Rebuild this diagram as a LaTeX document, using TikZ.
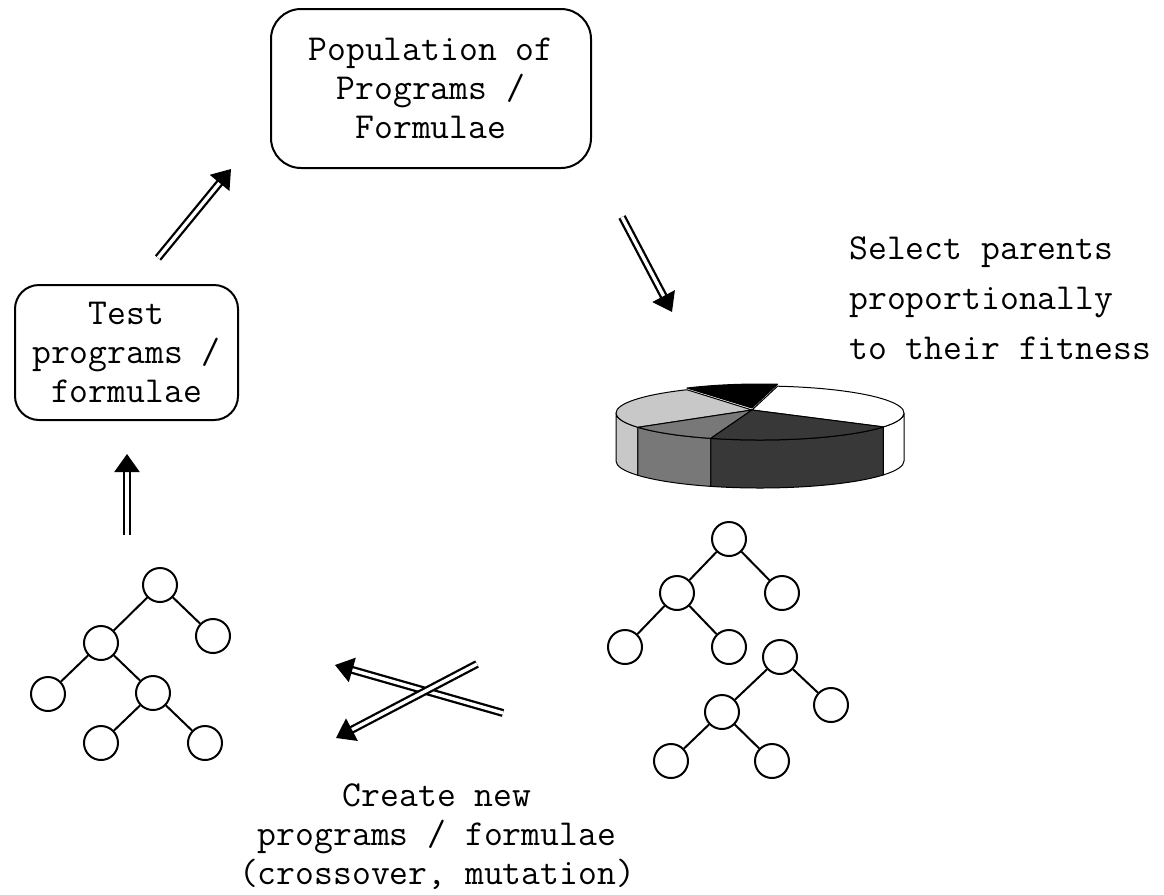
\documentclass[tikz,border=0pt]{standalone}
\usepackage{fontspec}
\usepackage{tikz}
\usepackage{xcolor}
\usetikzlibrary{arrows.meta,calc,positioning,shapes.geometric}
\definecolor{pielight}{RGB}{200,200,200}
\definecolor{piemid}{RGB}{120,120,120}
\definecolor{piedark}{RGB}{56,56,56}
\tikzset{%
	roundbox/.style = {draw, rectangle, line width=1pt, align=center, inner sep=0pt, font=\ttfamily\fontsize{18.3}{19.5}\selectfont},
	plaintext/.style= {inner sep=0pt, font=\ttfamily\fontsize{18.3}{19.5}\selectfont},
	treenode/.style = {draw, circle, line width=1pt, minimum size=17pt, inner sep=0pt},
	treeedge/.style = {line width=1pt},
	dblarrow/.style = {double, double distance=1.7pt, line width=1.15pt, -{Triangle[length=9pt,width=12.5pt]}},
	piepart/.style  = {draw, line width=0.5pt, line join=round},
}

\begin{document}
\begin{tikzpicture}[x=0.5pt,y=-0.5pt]
	\useasboundingbox (0,0) rectangle (1164,895);
	% boxes and texts
	\node[roundbox, rounded corners=15pt, minimum width=160pt, minimum height=79.5pt] (pop) at (431,88.5) {Population of\\Programs /\\Formulae};
	\node[roundbox, rounded corners=12pt, minimum width=111.5pt, minimum height=67.5pt] (test) at (126.5,352.5) {Test\\programs /\\formulae};
	\node[plaintext, align=left, anchor=north west, font=\ttfamily\fontsize{18.3}{25}\selectfont] (select) at (849,236) {Select parents\\proportionally\\to their fitness};
	\node[plaintext, align=center, anchor=north] (create) at (437,783) {Create new\\programs / formulae\\(crossover, mutation)};
	% pie chart
	\begin{scope}[shift={(760,413)}, yscale=-1]
		\filldraw[piepart, fill=pielight] (180:144 and 27) arc[start angle=180, end angle=212, x radius=144, y radius=27] -- ++(0,-48) arc[start angle=212, end angle=180, x radius=144, y radius=27] -- cycle;
		\filldraw[piepart, fill=piemid] (212:144 and 27) arc[start angle=212, end angle=250, x radius=144, y radius=27] -- ++(0,-48) arc[start angle=250, end angle=212, x radius=144, y radius=27] -- cycle;
		\filldraw[piepart, fill=piedark] (250:144 and 27) arc[start angle=250, end angle=329, x radius=144, y radius=27] -- ++(0,-48) arc[start angle=329, end angle=250, x radius=144, y radius=27] -- cycle;
		\filldraw[piepart, fill=white] (329:144 and 27) arc[start angle=329, end angle=360, x radius=144, y radius=27] -- ++(0,-48) arc[start angle=360, end angle=329, x radius=144, y radius=27] -- cycle;
		\filldraw[piepart, fill=white] (-8,3) -- (-31:144 and 27) arc[start angle=-31, end angle=83, x radius=144, y radius=27] -- cycle;
		\filldraw[piepart, fill=black] (-8,5) -- (83:144 and 29) arc[start angle=83, end angle=120.5, x radius=144, y radius=29] -- cycle;
		\filldraw[piepart, fill=pielight] (-8,3) -- (120.5:144 and 27) arc[start angle=120.5, end angle=212, x radius=144, y radius=27] -- cycle;
		\filldraw[piepart, fill=piemid] (-8,3) -- (212:144 and 27) arc[start angle=212, end angle=250, x radius=144, y radius=27] -- cycle;
		\filldraw[piepart, fill=piedark] (-8,3) -- (250:144 and 27) arc[start angle=250, end angle=329, x radius=144, y radius=27] -- cycle;
	\end{scope}
	% left tree
	\node[treenode] (a1) at (160,585) {};
	\node[treenode] (a2) at (101,643) {};
	\node[treenode] (a3) at (213,636) {};
	\node[treenode] (a4) at (48,694) {};
	\node[treenode] (a5) at (153,693) {};
	\node[treenode] (a6) at (101,743) {};
	\node[treenode] (a7) at (205,743) {};
	\draw[treeedge] (a1) -- (a2);
	\draw[treeedge] (a1) -- (a3);
	\draw[treeedge] (a2) -- (a4);
	\draw[treeedge] (a2) -- (a5);
	\draw[treeedge] (a5) -- (a6);
	\draw[treeedge] (a5) -- (a7);
	% right trees
	\node[treenode] (b1) at (729,539) {};
	\node[treenode] (b2) at (677,593) {};
	\node[treenode] (b3) at (782,593) {};
	\node[treenode] (b4) at (625,647) {};
	\node[treenode] (b5) at (729,647) {};
	\draw[treeedge] (b1) -- (b2);
	\draw[treeedge] (b1) -- (b3);
	\draw[treeedge] (b2) -- (b4);
	\draw[treeedge] (b2) -- (b5);
	\node[treenode] (c1) at (780,657) {};
	\node[treenode] (c2) at (722,712) {};
	\node[treenode] (c3) at (831,705) {};
	\node[treenode] (c4) at (671,761) {};
	\node[treenode] (c5) at (772,761) {};
	\draw[treeedge] (c1) -- (c2);
	\draw[treeedge] (c1) -- (c3);
	\draw[treeedge] (c2) -- (c4);
	\draw[treeedge] (c2) -- (c5);
	% arrows
	\coordinate (testout) at (158,258);
	\coordinate (popin) at (231,169);
	\coordinate (popout) at (622,217);
	\coordinate (piein) at (672,312);
	\coordinate (treeout) at (127,535);
	\coordinate (testin) at (127,454);
	\coordinate (crossa) at (503,713);
	\coordinate (newa) at (335,665);
	\coordinate (crossb) at (477,664);
	\coordinate (newb) at (336,738);
	\draw[dblarrow] (testout) -- (popin);
	\draw[dblarrow] (popout) -- (piein);
	\draw[dblarrow] (treeout) -- (testin);
	\draw[dblarrow] (crossa) -- (newa);
	\draw[dblarrow] (crossb) -- (newb);
\end{tikzpicture}
\end{document}
